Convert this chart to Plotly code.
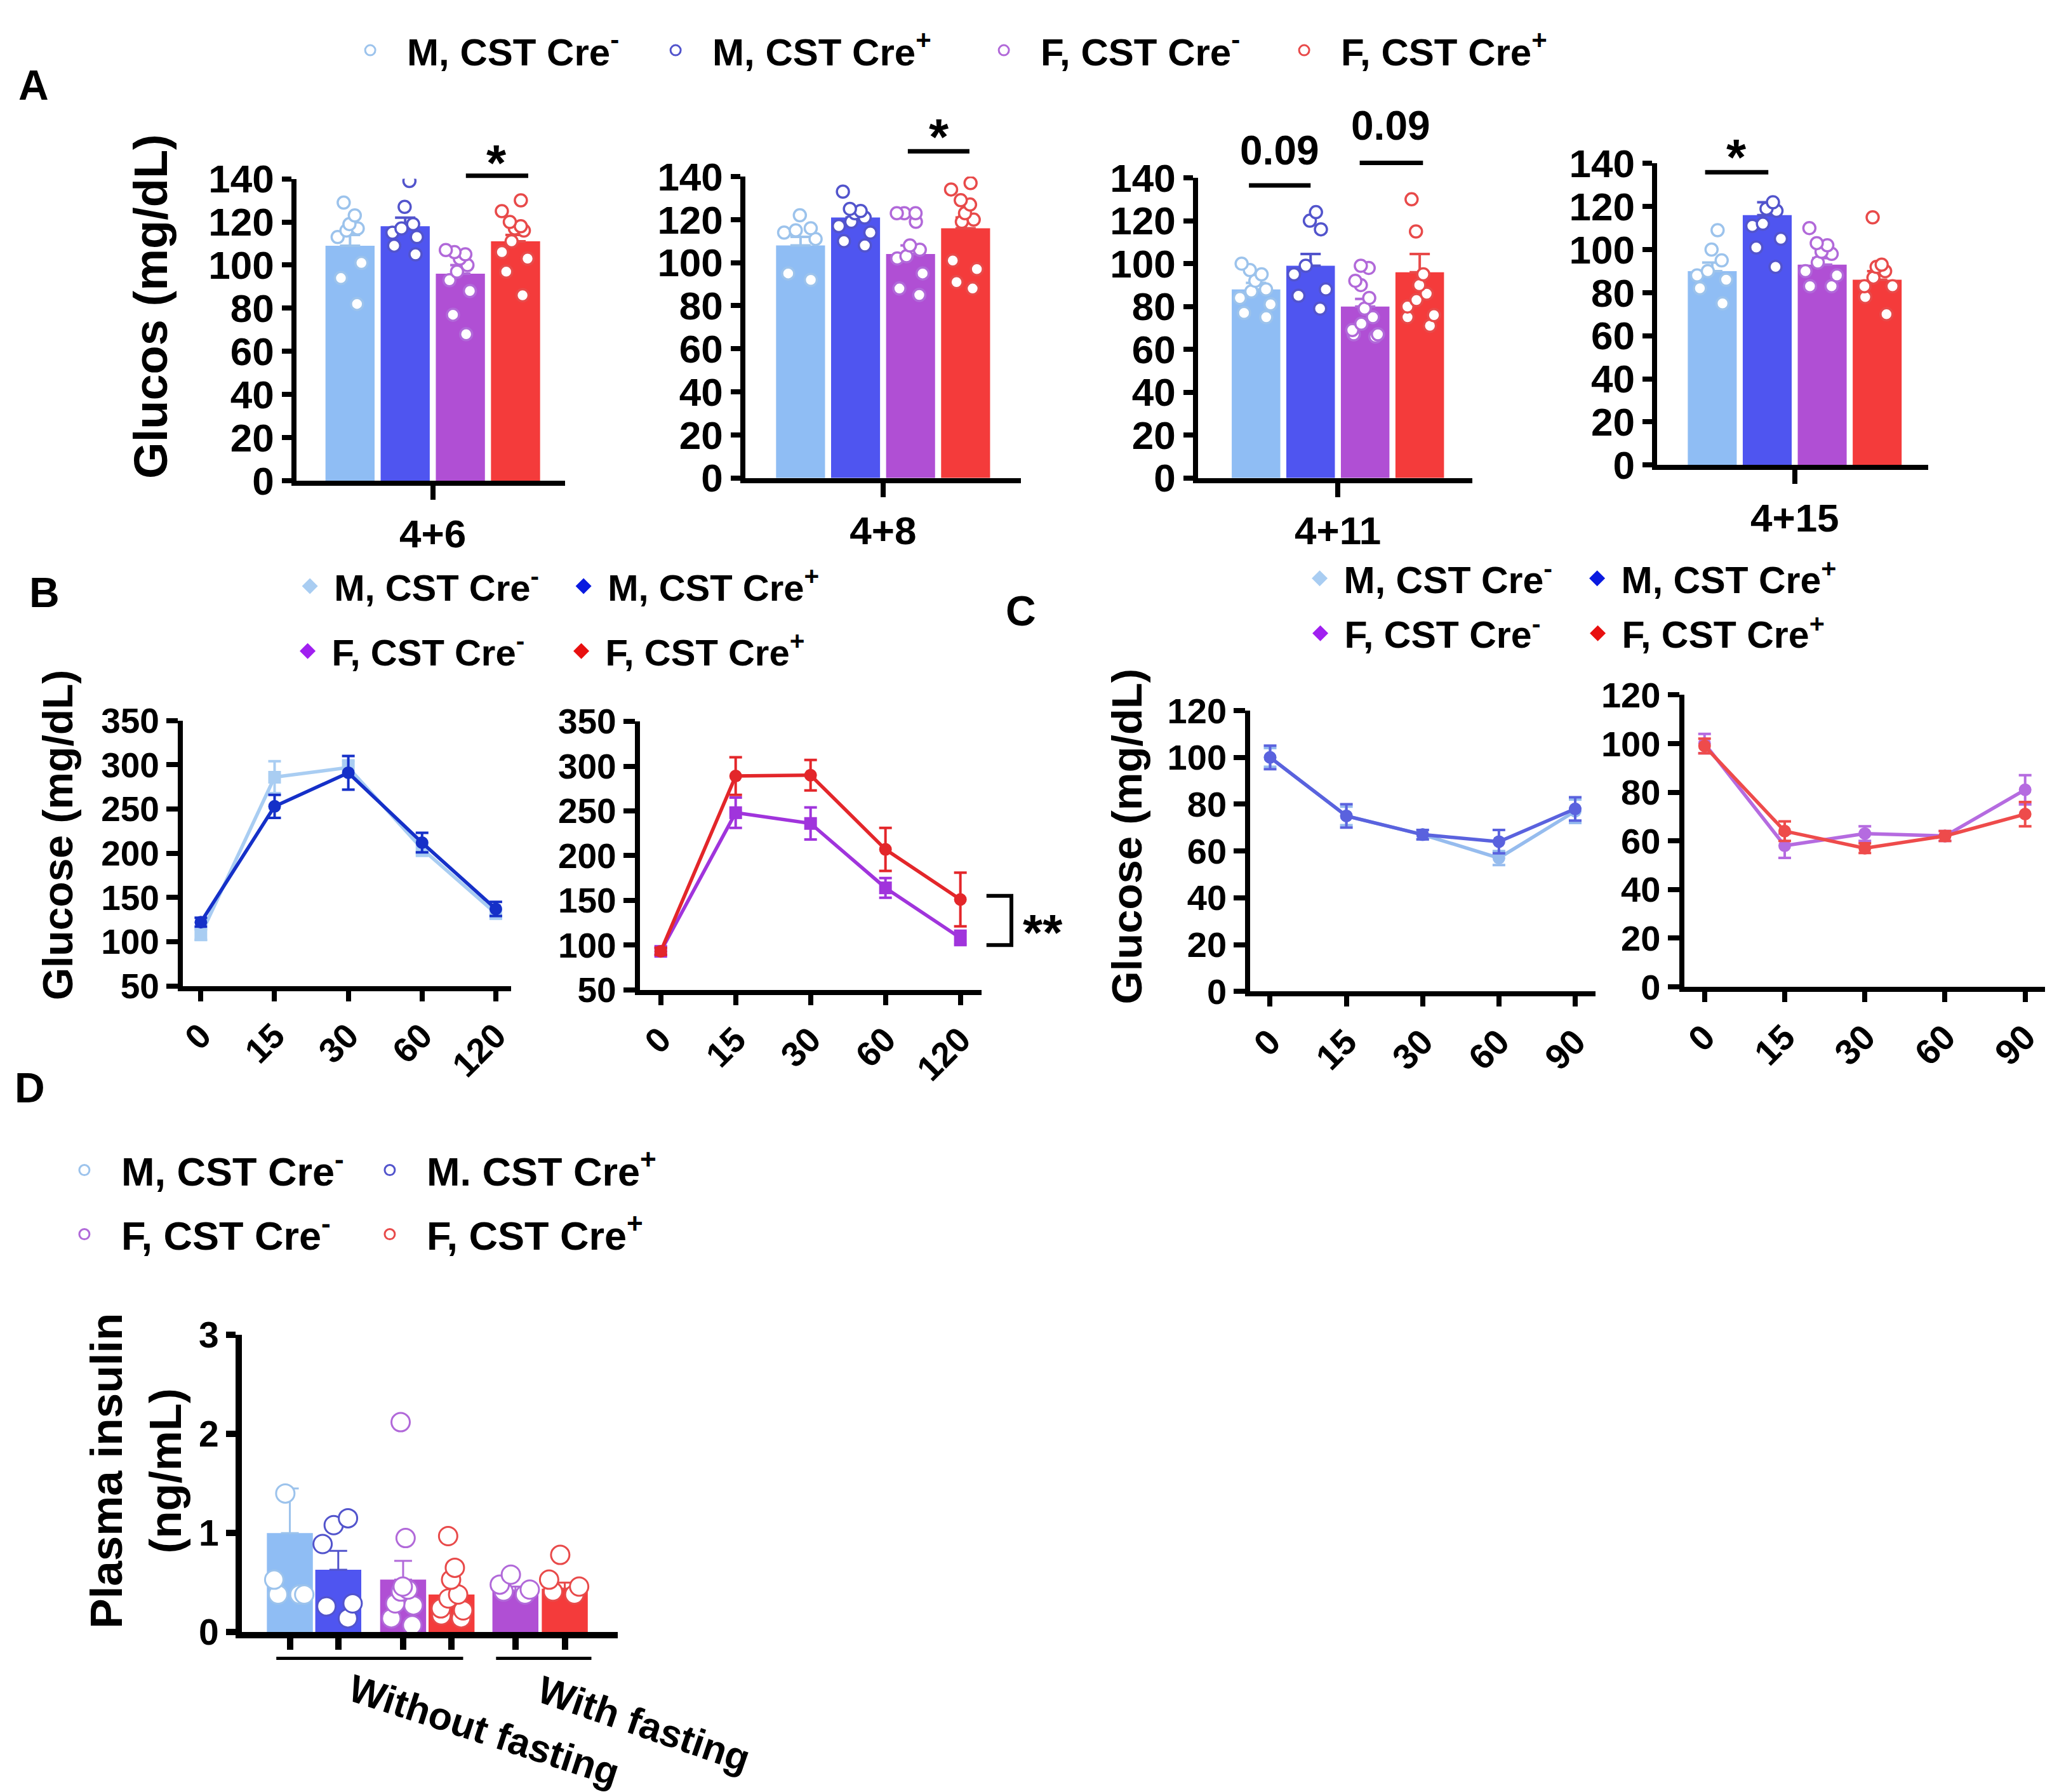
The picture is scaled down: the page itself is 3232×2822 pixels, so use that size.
import plotly.graph_objects as go

# ---------------- data ----------------
groups = ["M, CST Cre<sup>-</sup>", "M, CST Cre<sup>+</sup>",
          "F, CST Cre<sup>-</sup>", "F, CST Cre<sup>+</sup>"]
groups_d = ["M, CST Cre<sup>-</sup>", "M. CST Cre<sup>+</sup>",
            "F, CST Cre<sup>-</sup>", "F, CST Cre<sup>+</sup>"]

# A: glucose (mg/dL) at four ages, bars = mean, error = SEM
a_days = ["4+6", "4+8", "4+11", "4+15"]
a_means = [[109, 118, 96, 111],
           [108, 121, 104, 116],
           [88, 99, 80, 96],
           [90, 116, 93, 86]]
a_sems = [[5, 4, 4, 3],
          [4, 3.5, 4, 5],
          [3, 5.5, 3.5, 8.5],
          [4, 6, 3, 4]]
a_pts_d6 = [[129, 123, 119, 117, 116, 113, 101, 94, 82],
            [139, 127, 119, 117, 115, 113, 109, 105],
            [107, 106, 105, 103, 100, 97, 93, 88, 77, 68],
            [130, 125, 120, 118, 117, 116, 111, 106, 103, 97, 86]]
a_pts_d8 = [[122, 116, 115, 114, 111, 95, 92],
            [133, 125, 124, 123, 121, 119, 117, 114, 110, 108],
            [123, 123, 123, 119, 108, 106, 103, 102, 95, 88, 85],
            [137, 134, 129, 127, 123, 120, 119, 101, 97, 91, 88]]
a_pts_d11 = [[100, 97, 95, 92, 88, 87, 84, 81, 77, 75],
             [124, 120, 116, 99, 95, 88, 85, 79],
             [99, 98, 92, 90, 84, 79, 75, 72, 69, 67, 67, 66],
             [130, 115, 95, 90, 86, 83, 80, 76, 75, 71]]
a_pts_d15 = [[109, 100, 95, 90, 88, 86, 82, 75],
             [122, 119, 118, 112, 111, 105, 101, 92],
             [110, 103, 102, 99, 98, 94, 90, 88, 83, 83],
             [115, 93, 92, 90, 87, 83, 83, 78, 70]]

# B: glucose tolerance (mg/dL), mean +/- SEM
b_time = ["0", "15", "30", "60", "120"]
b_m_neg = [108, 286, 297, 205, 132]
b_m_neg_err = [6, 18, 8, 8, 6]
b_m_pos = [122, 253, 291, 212, 137]
b_m_pos_err = [5, 13, 19, 11, 8]
b_f_neg = [93, 248, 236, 164, 108]
b_f_neg_err = [4, 17, 18, 11, 8]
b_f_pos = [93, 289, 290, 207, 151]
b_f_pos_err = [4, 21, 17, 24, 30]

# C: insulin tolerance (mg/dL), mean +/- SEM
c_time = ["0", "15", "30", "60", "90"]
c_m_neg = [100, 75, 67, 57, 77]
c_m_neg_err = [4, 4, 2, 3, 5]
c_m_pos = [100, 75, 67, 64, 78]
c_m_pos_err = [5, 5, 2, 5, 5]
c_f_neg = [100, 58, 63, 62, 81]
c_f_neg_err = [4, 5, 3, 2, 6]
c_f_pos = [99, 64, 57, 62, 71]
c_f_pos_err = [3, 4, 2, 2, 5]

# D: plasma insulin (ng/mL)
d_sets = ["Without fasting", "With fasting"]
d_pos = [0, 1, 2.34, 3.34, 4.66, 5.68]
d_group = [0, 1, 2, 3, 2, 3]
d_means = [1.0, 0.63, 0.53, 0.38, 0.42, 0.44]
d_sems = [0.45, 0.19, 0.19, 0.10, 0.04, 0.06]
d_pts = [[1.40, 0.53, 0.38, 0.38, 0.38],
         [1.15, 1.08, 0.89, 0.29, 0.26, 0.14],
         [2.12, 0.95, 0.46, 0.43, 0.41, 0.29, 0.27, 0.14, 0.07],
         [0.97, 0.65, 0.53, 0.38, 0.34, 0.24, 0.22, 0.17, 0.14],
         [0.58, 0.48, 0.43, 0.41, 0.38],
         [0.78, 0.53, 0.46, 0.41, 0.38]]

# ---------------- style ----------------
FONT = "Liberation Sans, Arial, Helvetica, sans-serif"
SW, SH = 1568.0, 1369.0   # positions below measured on a 1568x1369 sketch

BAR = ["#8FBDF4", "#4F55F0", "#B04FD4", "#F43B3B"]
DOT = ["#9CC3EC", "#5254CC", "#B169D9", "#E84A4A"]
LINE_B = ["#A9CDF2", "#1530C8", "#A034DC", "#E3262A"]
LINE_C = ["#96BCEE", "#5A62DE", "#B56BE0", "#EE4B4B"]
KEY = ["#A9CDF2", "#0A1AE0", "#A020F0", "#E81010"]


def fx(v):
    return v / SW


def fy(v):
    return 1 - v / SH


def bold(size):
    return dict(family=FONT, size=size, color="black", weight="bold")


def sfx(n):
    return "" if n == 1 else str(n)


fig = go.Figure()


def set_axes(n, box, xr, yr, lw, xlen, ylen, size, xtv, xtt, ytv, xangle=0, xlabels=True):
    l, r, t, b = box
    common = dict(showline=True, linecolor="black", linewidth=lw, ticks="outside",
                  tickwidth=lw, tickcolor="black", showgrid=False, zeroline=False,
                  tickfont=bold(size), fixedrange=True)
    fig.update_layout({
        "xaxis" + sfx(n): dict(domain=[fx(l), fx(r)], range=xr, anchor="y" + sfx(n),
                               ticklen=xlen, tickmode="array", tickvals=xtv, ticktext=xtt,
                               tickangle=xangle, showticklabels=xlabels, **common),
        "yaxis" + sfx(n): dict(domain=[fy(b), fy(t)], range=yr, anchor="x" + sfx(n),
                               ticklen=ylen, tickmode="array", tickvals=ytv,
                               ticktext=[str(v) for v in ytv], **common),
    })


# ---------------- panel A ----------------
a_boxes = [(222.7, 428, 132.7, 363.5), (565.8, 776, 131, 361.3),
           (911.7, 1121, 132, 361.3), (1262.5, 1469.6, 121, 351.3)]
a_xr = [[-0.97, 3.9], [-1.0, 4.0], [-1.06, 3.96], [-1.0, 3.93]]
a_pts = [a_pts_d6, a_pts_d8, a_pts_d11, a_pts_d15]

for k in range(4):
    n = k + 1
    set_axes(n, a_boxes[k], a_xr[k], [0, 140], 8, 22, 15, 62,
             [1.5], [a_days[k]], list(range(0, 141, 20)))
    for g in range(4):
        fig.add_trace(go.Bar(
            x=[g], y=[a_means[k][g]], width=0.89,
            marker=dict(color=BAR[g], line=dict(width=0)),
            error_y=dict(type="data", symmetric=False, array=[a_sems[k][g]], arrayminus=[0],
                         color=DOT[g], thickness=4, width=16),
            xaxis="x" + sfx(n), yaxis="y" + sfx(n), showlegend=False, hoverinfo="skip"))
    for g in range(4):
        vals = a_pts[k][g]
        fig.add_trace(go.Box(
            x=[g] * len(vals), y=vals, boxpoints="all", jitter=0.9, pointpos=0, width=0.8,
            fillcolor="rgba(0,0,0,0)", line=dict(color="rgba(0,0,0,0)", width=0), whiskerwidth=0,
            marker=dict(symbol="circle", size=19, color="white", line=dict(color=DOT[g], width=3.5)),
            xaxis="x" + sfx(n), yaxis="y" + sfx(n), showlegend=False, hoverinfo="skip"))

# ---------------- panels B and C ----------------
set_axes(5, (135.8, 386.8, 546.6, 749.3), [-0.245, 4.21], [50, 350], 8, 16, 18, 55,
         list(range(5)), b_time, list(range(50, 351, 50)), xangle=-45)
set_axes(6, (485, 746, 547.3, 752.3), [-0.28, 4.28], [50, 350], 8, 16, 18, 55,
         list(range(5)), b_time, list(range(50, 351, 50)), xangle=-45)
set_axes(7, (951.5, 1215.5, 539, 753.5), [-0.26, 4.27], [0, 120], 8, 16, 18, 56,
         list(range(5)), c_time, list(range(0, 121, 20)), xangle=-45)
set_axes(8, (1283, 1558.9, 527, 750), [-0.255, 4.25], [0, 120], 8, 16, 18, 56,
         list(range(5)), c_time, list(range(0, 121, 20)), xangle=-45)

line_sets = [
    (5, b_m_neg, b_m_neg_err, LINE_B[0], "square"),
    (5, b_m_pos, b_m_pos_err, LINE_B[1], "circle"),
    (6, b_f_neg, b_f_neg_err, LINE_B[2], "square"),
    (6, b_f_pos, b_f_pos_err, LINE_B[3], "circle"),
    (7, c_m_neg, c_m_neg_err, LINE_C[0], "circle"),
    (7, c_m_pos, c_m_pos_err, LINE_C[1], "circle"),
    (8, c_f_neg, c_f_neg_err, LINE_C[2], "circle"),
    (8, c_f_pos, c_f_pos_err, LINE_C[3], "circle"),
]
for n, vals, errs, col, sym in line_sets:
    fig.add_trace(go.Scatter(
        x=list(range(len(vals))), y=vals, mode="lines+markers",
        line=dict(color=col, width=5.5), marker=dict(symbol=sym, size=20, color=col),
        error_y=dict(type="data", array=errs, color=col, thickness=4, width=10),
        xaxis="x" + sfx(n), yaxis="y" + sfx(n), showlegend=False, hoverinfo="skip"))

# ---------------- panel D ----------------
set_axes(9, (181, 468, 1016, 1243), [-0.99, 6.77], [0, 3], 10, 18, 15, 57,
         d_pos, None, [0, 1, 2, 3], xlabels=False)
for i, p in enumerate(d_pos):
    g = d_group[i]
    fig.add_trace(go.Bar(
        x=[p], y=[d_means[i]], width=0.95, marker=dict(color=BAR[g], line=dict(width=0)),
        error_y=dict(type="data", symmetric=False, array=[d_sems[i]], arrayminus=[0],
                     color=DOT[g], thickness=3, width=14),
        xaxis="x9", yaxis="y9", showlegend=False, hoverinfo="skip"))
for i, p in enumerate(d_pos):
    g = d_group[i]
    vals = d_pts[i]
    fig.add_trace(go.Box(
        x=[p] * len(vals), y=vals, boxpoints="all", jitter=0.9, pointpos=0, width=0.85,
        fillcolor="rgba(0,0,0,0)", line=dict(color="rgba(0,0,0,0)", width=0), whiskerwidth=0,
        marker=dict(symbol="circle", size=29, color="white", line=dict(color=DOT[g], width=3)),
        xaxis="x9", yaxis="y9", showlegend=False, hoverinfo="skip"))

# ---------------- legends (legend-only entries) ----------------
legend_rows = [
    ("legend", [0, 1, 2, 3], groups, "circle-open", DOT, [360, 396, 352, 360]),
    ("legend2", [0, 1], groups, "diamond", KEY, [350, 350]),
    ("legend3", [2, 3], groups, "diamond", KEY, [350, 350]),
    ("legend4", [0, 1], groups, "diamond", KEY, [356, 356]),
    ("legend5", [2, 3], groups, "diamond", KEY, [356, 356]),
    ("legend6", [0, 1], groups_d, "circle-open", DOT, [360, 360]),
    ("legend7", [2, 3], groups_d, "circle-open", DOT, [360, 360]),
]
for leg, idx, names, sym, cols, widths in legend_rows:
    for j, g in enumerate(idx):
        fig.add_trace(go.Scatter(
            x=[None], y=[None], mode="markers", name=names[g], legend=leg, legendwidth=widths[j],
            marker=dict(symbol=sym, size=16, color=cols[g], line=dict(width=3, color=cols[g])),
            showlegend=True, hoverinfo="skip"))


def leg(x, y, iw, size):
    return dict(x=x, y=y, xanchor="left", yanchor="middle", orientation="h", itemwidth=iw,
                font=bold(size), bgcolor="rgba(0,0,0,0)", borderwidth=0, tracegroupgap=0,
                itemclick=False, itemdoubleclick=False, valign="middle")


fig.update_layout(
    legend=leg(0.1600, fy(34.5), 106, 60),
    legend2=leg(0.1368, fy(444), 66, 58),
    legend3=leg(0.1357, fy(493.6), 66, 58),
    legend4=leg(0.6289, fy(438), 66, 59),
    legend5=leg(0.6292, fy(480), 66, 59),
    legend6=leg(0.0207, fy(890), 106, 63),
    legend7=leg(0.0207, fy(939), 106, 63),
)

# ---------------- annotations and brackets ----------------
ann = []
shapes = []

for text, x, y in [("A", 22, 61), ("B", 30, 448.6), ("C", 776, 463), ("D", 19, 827)]:
    ann.append(dict(text=text, x=fx(x), y=fy(y), xref="paper", yref="paper", showarrow=False,
                    font=bold(66), xanchor="center", yanchor="middle"))

for text, x, y, size in [("Glucos (mg/dL)", 111, 230, 74), ("Glucose (mg/dL)", 40, 634, 66),
                         ("Glucose (mg/dL)", 857, 635, 67),
                         ("Plasma insulin<br>(ng/mL)", 100, 1120, 71)]:
    ann.append(dict(text=text, x=fx(x), y=fy(y), xref="paper", yref="paper", showarrow=False,
                    textangle=-90, font=bold(size), xanchor="center", yanchor="middle"))

# significance bars in A (x in bar units, y as fraction of axis height)
sig_lines = [(1, 2.1, 3.23, 1.01), (2, 1.95, 3.07, 1.084), (3, -0.13, 1.0, 0.975),
             (3, 1.9, 3.06, 1.05), (4, -0.13, 1.02, 0.971)]
for n, x0, x1, y in sig_lines:
    shapes.append(dict(type="line", xref="x" + sfx(n), yref="y" + sfx(n) + " domain",
                       x0=x0, x1=x1, y0=y, y1=y, line=dict(color="black", width=7)))
sig_text = [(1, "*", 2.66, 1.094, 80, -20), (2, "*", 2.52, 1.174, 80, -20),
            (3, "0.09", 0.43, 1.092, 64, 0), (3, "0.09", 2.47, 1.174, 64, 0),
            (4, "*", 0.44, 1.063, 80, -20)]
for n, t, x, y, size, ys in sig_text:
    ann.append(dict(text=t, x=x, y=y, xref="x" + sfx(n), yref="y" + sfx(n) + " domain",
                    showarrow=False, font=bold(size), xanchor="center", yanchor="middle", yshift=ys))

# B right panel bracket
shapes.append(dict(type="path", xref="x6 domain", yref="y6",
                   path="M 1.015,155 L 1.088,155 L 1.088,100 L 1.015,100",
                   line=dict(color="black", width=6)))
ann.append(dict(text="**", x=1.18, y=127, xref="x6 domain", yref="y6", showarrow=False,
                font=bold(80), xanchor="center", yanchor="middle", yshift=-18))

# D group underlines and labels
for x0, x1 in [(-0.28, 3.58), (4.26, 6.23)]:
    shapes.append(dict(type="line", xref="x9", yref="y9 domain", x0=x0, x1=x1,
                       y0=-0.088, y1=-0.088, line=dict(color="black", width=5)))
for t, x, y, ang in [(d_sets[0], 0.645, -0.33, 18), (d_sets[1], 1.07, -0.31, 19)]:
    ann.append(dict(text=t, x=x, y=y, xref="x9 domain", yref="y9 domain", showarrow=False,
                    textangle=ang, font=bold(61), xanchor="center", yanchor="middle"))

fig.update_layout(
    width=3232, height=2822,
    margin=dict(l=0, r=0, t=0, b=0, pad=0, autoexpand=False),
    paper_bgcolor="white", plot_bgcolor="white",
    font=dict(family=FONT, color="black"),
    barmode="overlay", boxmode="overlay", hovermode=False,
    showlegend=True, annotations=ann, shapes=shapes,
)

fig.write_html("out.html")
